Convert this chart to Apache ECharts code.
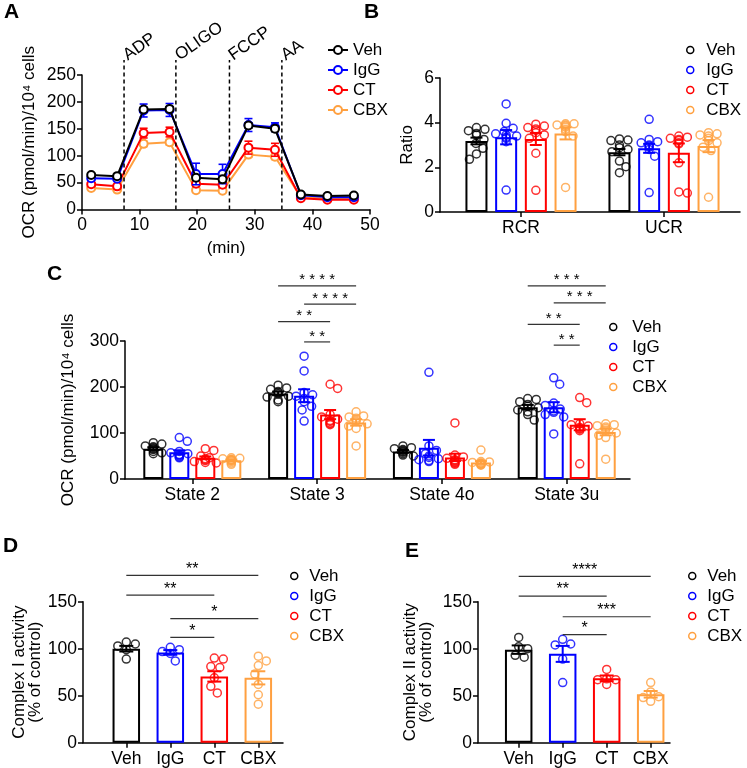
<!DOCTYPE html>
<html><head><meta charset="utf-8">
<script src="https://cdn.jsdelivr.net/npm/echarts@6/dist/echarts.min.js"></script>
<style>html,body{margin:0;padding:0;background:#fff}#c{width:747px;height:768px}</style>
</head><body><div id="c"></div>
<script>
// ---------------- DATA ----------------
const groups = ['Veh', 'IgG', 'CT', 'CBX'];
const colors = ['#000000', '#0000ff', '#ff0000', '#ffa040'];

// Panel A: OCR time course
const aTime = [1.6, 6.1, 10.7, 15.2, 19.8, 24.4, 28.9, 33.5, 38.0, 42.6, 47.2];
const aVeh = [64, 62, 186, 187, 59, 56, 156, 150, 28, 25, 26];
const aIgG = [58, 57, 184, 185, 66, 66, 157, 153, 26.5, 23, 23];
const aCT  = [47, 43, 142, 144, 48, 46, 115, 111, 21, 18, 18];
const aCBX = [40, 37, 122, 125, 36, 35, 102, 98, 23, 20, 20];
const aVehSem = [3, 3, 4, 4, 4, 4, 5, 5, 2, 2, 2];
const aIgGSem = [3, 3, 12, 12, 20, 18, 12, 8, 2, 2, 2];
const aCTSem  = [3, 3, 9, 9, 5, 5, 12, 12, 2, 2, 2];
const aCBXSem = [3, 3, 5, 5, 3, 3, 5, 5, 2, 2, 2];
const aEvents = ['ADP', 'OLIGO', 'FCCP', 'AA'];
const aEventTime = [7.3, 16.3, 25.6, 34.7];
const aEventTop = 278;

// Panel B: ratios
const bCats = ['RCR', 'UCR'];
const bMeans = [[3.18, 2.68], [3.35, 2.85], [3.27, 2.65], [3.52, 2.95]];
const bSems = [[0.15, 0.14], [0.32, 0.2], [0.27, 0.42], [0.27, 0.27]];
const bPoints = [
  [[3.78, 3.7, 3.64, 3.52, 3.45, 3.25, 3.07, 2.85, 2.6, 2.36], [3.27, 3.22, 3.2, 3.0, 2.88, 2.8, 2.7, 2.28, 2.03, 1.76]],
  [[4.84, 3.97, 3.75, 3.6, 3.5, 3.45, 3.4, 3.35, 3.3, 3.15, 0.98], [4.15, 3.25, 3.15, 3.1, 3.0, 2.95, 2.9, 2.8, 2.5, 0.87]],
  [[3.93, 3.85, 3.78, 3.72, 3.65, 3.55, 3.45, 3.3, 2.63, 0.97], [3.4, 3.35, 3.3, 3.25, 3.2, 3.1, 3.05, 2.2, 0.9, 0.85]],
  [[3.95, 3.95, 3.9, 3.9, 3.85, 3.8, 3.7, 3.6, 3.4, 1.1], [3.55, 3.5, 3.45, 3.4, 3.3, 3.2, 3.1, 2.9, 2.75, 0.66]]
];

// Panel C: OCR states
const cCats = ['State 2', 'State 3', 'State 4o', 'State 3u'];
const cMeans = [[66, 186, 60, 156], [58, 181, 68, 156], [46, 140, 47, 118], [41, 123, 36, 102]];
const cSems = [[3, 4, 3, 5], [4.5, 14, 17, 11], [3, 10, 8, 12], [1.5, 7, 3, 7]];
const cPoints = [
  [[79, 76, 72, 70, 68, 66, 64, 60, 57, 55], [204, 198, 195, 190, 188, 185, 180, 178, 172, 168], [72, 68, 66, 64, 62, 60, 58, 55, 52, 50], [175, 173, 168, 162, 158, 155, 150, 146, 140, 128]],
  [[90, 82, 60, 57, 55, 53, 52, 50, 48, 46], [267, 235, 188, 183, 180, 175, 168, 158, 150, 126], [232, 72, 62, 55, 50, 47, 44, 42, 40, 38], [220, 206, 165, 160, 152, 148, 145, 140, 135, 98]],
  [[66, 62, 50, 46, 44, 42, 40, 38, 36, 35], [206, 197, 140, 135, 130, 127, 125, 122, 120, 118], [122, 52, 48, 45, 42, 40, 38, 36, 34, 32], [177, 166, 120, 118, 115, 112, 110, 108, 105, 33]],
  [[46, 45, 44, 43, 42, 41, 40, 38, 35, 32], [146, 137, 135, 132, 128, 125, 120, 115, 110, 72], [63, 38, 37, 36, 35, 34, 33, 32, 31, 30], [120, 118, 116, 113, 110, 106, 100, 95, 90, 43]]
];
const cBrackets = [
  {cat: 1, from: 0, to: 3, y: 420, text: '* * * *'},
  {cat: 1, from: 1, to: 3, y: 380, text: '* * * *'},
  {cat: 1, from: 0, to: 2, y: 342, text: '* *'},
  {cat: 1, from: 1, to: 2, y: 298, text: '* *'},
  {cat: 3, from: 0, to: 3, y: 420, text: '* * *'},
  {cat: 3, from: 1, to: 3, y: 383, text: '* * *'},
  {cat: 3, from: 0, to: 2, y: 336, text: '* *'},
  {cat: 3, from: 1, to: 2, y: 291, text: '* *'}
];

// Panel D: Complex I activity
const dMeans = [100, 96, 70.5, 69];
const dSems = [3, 2.5, 5.5, 7];
const dPoints = [[105, 107, 103, 99, 89], [101.5, 99, 97, 95, 87], [90, 89, 81, 80, 69, 60, 53], [92, 87, 82, 73, 62, 51, 41]];
const dBrackets = [
  {from: 0, to: 3, y: 178, text: '**'},
  {from: 0, to: 2, y: 157, text: '**'},
  {from: 1, to: 3, y: 132, text: '*'},
  {from: 1, to: 2, y: 112, text: '*'}
];

// Panel E: Complex II activity
const eMeans = [99, 94.5, 68.5, 51.5];
const eSems = [4.5, 8.5, 3, 3.5];
const ePoints = [[112, 102, 100, 93, 91], [110, 105, 104, 89, 64], [78, 68, 67, 67, 62], [64, 54, 49, 48, 44]];
const eBrackets = [
  {from: 0, to: 3, y: 177, text: '****'},
  {from: 0, to: 2, y: 156, text: '**'},
  {from: 1, to: 3, y: 134, text: '***'},
  {from: 1, to: 2, y: 115, text: '*'}
];

// ---------------- RENDER ----------------
const FONT = '"Liberation Sans", Arial, Helvetica, sans-serif';
const chart = echarts.init(document.getElementById('c'), null, {renderer: 'canvas', width: 747, height: 768});
const series = [];

function swarm(vals, pxY, d, maxOff) {
  const order = vals.map((v, i) => i).sort((a, b) => vals[b] - vals[a]);
  const pos = []; const off = [];
  let flip = 1;
  order.forEach(i => {
    const y = vals[i] * pxY;
    let chosen = null;
    for (let k = 0; k <= maxOff && chosen === null; k += 0.5) {
      const cands = k === 0 ? [0] : [flip * k, -flip * k];
      for (const dx of cands) {
        if (pos.every(p => Math.hypot(p[0] - dx, p[1] - y) >= d)) { chosen = dx; break; }
      }
    }
    if (chosen === null) chosen = 0;
    if (chosen !== 0) flip = -Math.sign(chosen);
    pos.push([chosen, y]); off[i] = chosen;
  });
  return off;
}

function errRender(offFn, cap, lw) {
  return function (params, api) {
    const x = api.value(0), m = api.value(1), s = api.value(2), gi = api.value(3);
    const t = api.coord([x, m + s]), b = api.coord([x, m - s]);
    const cx = t[0] + offFn(gi);
    const st = {stroke: colors[gi], lineWidth: lw, fill: null};
    return {type: 'group', children: [
      {type: 'line', shape: {x1: cx, y1: t[1], x2: cx, y2: b[1]}, style: st},
      {type: 'line', shape: {x1: cx - cap, y1: t[1], x2: cx + cap, y2: t[1]}, style: st},
      {type: 'line', shape: {x1: cx - cap, y1: b[1], x2: cx + cap, y2: b[1]}, style: st}
    ]};
  };
}

function bracketRender(list, xOf, fontSize) {
  return function (params, api) {
    const b = list[params.dataIndex];
    const x1 = xOf(b, b.from, api), x2 = xOf(b, b.to, api);
    const y = api.coord([0, b.y])[1];
    return {type: 'group', children: [
      {type: 'line', shape: {x1: x1, y1: y, x2: x2, y2: y}, style: {stroke: '#333', lineWidth: 1.2}},
      {type: 'text', x: (x1 + x2) / 2, y: y + 2, style: {text: b.text, font: fontSize + 'px ' + FONT, fill: '#000', align: 'center', verticalAlign: 'bottom'}}
    ]};
  };
}

// ---- Panel A ----
const aVals = [aVeh, aIgG, aCT, aCBX];
const aSemAll = [aVehSem, aIgGSem, aCTSem, aCBXSem];
groups.forEach((g, i) => {
  series.push({type: 'line', name: g, xAxisIndex: 0, yAxisIndex: 0, z: 6 - i,
    data: aTime.map((t, k) => [t, aVals[i][k]]),
    symbol: 'emptyCircle', symbolSize: 8,
    lineStyle: {width: 2, color: colors[i]},
    itemStyle: {color: colors[i], borderWidth: 1.6}});
  series.push({type: 'custom', name: 'errA' + i, xAxisIndex: 0, yAxisIndex: 0, z: 6 - i,
    data: aTime.map((t, k) => [t, aVals[i][k], aSemAll[i][k], i]),
    renderItem: errRender(() => 0, 4, 1.6)});
});
series.push({type: 'custom', name: 'events', xAxisIndex: 0, yAxisIndex: 0, z: 8,
  data: aEventTime.map(t => [t, 0]),
  renderItem: function (params, api) {
    const t = api.value(0);
    const b = api.coord([t, 0]), tp = api.coord([t, aEventTop]);
    return {type: 'group', children: [
      {type: 'line', shape: {x1: b[0], y1: b[1], x2: tp[0], y2: tp[1]}, style: {stroke: '#000', lineWidth: 1.5, lineDash: [4, 3]}},
      {type: 'text', x: tp[0] + 6, y: tp[1] + 4, rotation: 35 * Math.PI / 180,
        style: {text: aEvents[params.dataIndex], font: '17px ' + FONT, fill: '#000', align: 'left', verticalAlign: 'bottom'}}
    ]};
  }});

// ---- grouped bar panels (B, C) ----
function groupedPanel(ax, means, sems, points, opt) {
  const step = opt.barWidth + opt.gapPx;
  const offFn = gi => (gi - 1.5) * step;
  groups.forEach((g, gi) => {
    series.push({type: 'bar', name: g, xAxisIndex: ax, yAxisIndex: ax, z: 2,
      barWidth: opt.barWidth, barGap: (opt.gapPx / opt.barWidth * 100) + '%',
      data: means[gi].map((v, c) => [c, v]),
      itemStyle: {color: '#fff', borderColor: colors[gi], borderWidth: opt.bw}});
    series.push({type: 'custom', name: 'err' + ax + g, xAxisIndex: ax, yAxisIndex: ax, z: 3,
      data: means[gi].map((v, c) => [c, v, sems[gi][c], gi]),
      renderItem: errRender(offFn, opt.cap, opt.bw)});
    const pts = [];
    points[gi].forEach((arr, c) => {
      const o = swarm(arr, opt.pxY, opt.d, opt.maxOff);
      arr.forEach((v, k) => pts.push({value: [c, v], symbolOffset: [offFn(gi) + o[k], 0]}));
    });
    series.push({type: 'scatter', name: 'pts' + ax + g, xAxisIndex: ax, yAxisIndex: ax, z: 4,
      symbol: 'circle', symbolSize: opt.sym,
      itemStyle: {color: 'rgba(255,255,255,0)', borderColor: colors[gi], borderWidth: 1.5},
      data: pts});
  });
  return step;
}
function singlePanel(ax, means, sems, points, opt) {
  series.push({type: 'bar', name: 'bars' + ax, xAxisIndex: ax, yAxisIndex: ax, z: 2, barWidth: opt.barWidth,
    data: means.map((v, i) => ({value: [i, v], itemStyle: {color: '#fff', borderColor: colors[i], borderWidth: opt.bw}}))});
  series.push({type: 'custom', name: 'err' + ax, xAxisIndex: ax, yAxisIndex: ax, z: 3,
    data: means.map((v, i) => [i, v, sems[i], i]),
    renderItem: errRender(() => 0, opt.cap, opt.bw)});
  groups.forEach((g, gi) => {
    const o = swarm(points[gi], opt.pxY, opt.d, opt.maxOff);
    series.push({type: 'scatter', name: 'pts' + ax + g, xAxisIndex: ax, yAxisIndex: ax, z: 4,
      symbol: 'circle', symbolSize: opt.sym,
      itemStyle: {color: 'rgba(255,255,255,0)', borderColor: colors[gi], borderWidth: 1.5},
      data: points[gi].map((v, k) => ({value: [gi, v], symbolOffset: [o[k], 0]}))});
  });
}

// layout
const G = {
  A: {left: 82, top: 75, width: 288, height: 134.5},
  B: {left: 440, top: 78, width: 300, height: 134},
  C: {left: 125, top: 341, width: 505, height: 138},
  D: {left: 83, top: 601.7, width: 200, height: 141},
  E: {left: 478, top: 601.7, width: 192, height: 141}
};
const bStep = groupedPanel(1, bMeans, bSems, bPoints, {barWidth: 22, gapPx: 7.7, bw: 2, cap: 6, pxY: G.B.height / 6, d: 8.5, maxOff: 11, sym: 8});
const cStep = groupedPanel(2, cMeans, cSems, cPoints, {barWidth: 20, gapPx: 6, bw: 2, cap: 6, pxY: G.C.height / 300, d: 8.5, maxOff: 11, sym: 8});
singlePanel(3, dMeans, dSems, dPoints, {barWidth: 27.5, bw: 2, cap: 7, pxY: G.D.height / 150, d: 9, maxOff: 12, sym: 8});
singlePanel(4, eMeans, eSems, ePoints, {barWidth: 27.5, bw: 2, cap: 7, pxY: G.E.height / 150, d: 9, maxOff: 12, sym: 8});

series.push({type: 'custom', name: 'brC', xAxisIndex: 2, yAxisIndex: 2, z: 5,
  data: cBrackets.map(b => [b.cat, b.y]),
  renderItem: bracketRender(cBrackets, (b, s, api) => api.coord([b.cat, b.y])[0] + (s - 1.5) * cStep, 15)});
series.push({type: 'custom', name: 'brD', xAxisIndex: 3, yAxisIndex: 3, z: 5,
  data: dBrackets.map(b => [b.from, b.y]),
  renderItem: bracketRender(dBrackets, (b, s, api) => api.coord([s, b.y])[0], 16)});
series.push({type: 'custom', name: 'brE', xAxisIndex: 4, yAxisIndex: 4, z: 5,
  data: eBrackets.map(b => [b.from, b.y]),
  renderItem: bracketRender(eBrackets, (b, s, api) => api.coord([s, b.y])[0], 16)});

// axes
const axLine = {show: true, onZero: false, lineStyle: {color: '#000', width: 1.5}};
const axTick = {show: true, length: 5, inside: false, lineStyle: {color: '#000', width: 1.5}};
const axLabel = {color: '#000', fontSize: 17.5, fontFamily: FONT, margin: 6};
const nameStyle = {color: '#000', fontSize: 17, fontFamily: FONT};
function xCat(gi, min, max, cats) {
  const vals = cats.map((c, i) => i);
  return {type: 'value', gridIndex: gi, min: min, max: max, axisLine: axLine,
    axisTick: Object.assign({}, axTick, {customValues: vals}),
    axisLabel: Object.assign({}, axLabel, {margin: 7, customValues: vals, formatter: v => cats[Math.round(v)]}),
    splitLine: {show: false}};
}
function yVal(gi, max, interval, name, gap, lh) {
  return {type: 'value', gridIndex: gi, min: 0, max: max, interval: interval, axisLine: axLine, axisTick: axTick,
    axisLabel: axLabel, splitLine: {show: false},
    name: name, nameLocation: 'middle', nameGap: gap, nameMoveOverlap: false,
    nameTextStyle: Object.assign({}, nameStyle, lh ? {lineHeight: lh} : {})};
}

const circleItems = groups.map((g, i) => ({name: g, icon: 'circle',
  itemStyle: {color: '#fff', borderColor: colors[i], borderWidth: 1.5}}));
const legendBase = {orient: 'vertical', itemGap: 3, padding: 0, selectedMode: false,
  textStyle: {fontSize: 17, color: '#000', fontFamily: FONT}};

chart.setOption({
  animation: false,
  textStyle: {fontFamily: FONT},
  grid: ['A', 'B', 'C', 'D', 'E'].map(k => Object.assign({outerBoundsMode: 'none', containLabel: false}, G[k])),
  xAxis: [
    {type: 'value', gridIndex: 0, min: 0, max: 50, interval: 10, axisLine: axLine, axisTick: axTick,
      axisLabel: Object.assign({}, axLabel, {margin: 7}), splitLine: {show: false},
      name: '(min)', nameLocation: 'middle', nameGap: 30, nameTextStyle: nameStyle},
    xCat(1, -0.5664, 1.5315, bCats),
    xCat(2, -0.5393, 3.507, cCats),
    xCat(3, -0.984, 3.561, groups),
    xCat(4, -0.925, 3.439, groups)
  ],
  yAxis: [
    yVal(0, 250, 50, 'OCR (pmol/min)/10\u2074 cells', 44),
    yVal(1, 6, 2, 'Ratio', 24),
    yVal(2, 300, 100, 'OCR (pmol/min)/10\u2074 cells', 48),
    yVal(3, 150, 50, 'Complex I activity\n(% of control)', 40, 16),
    yVal(4, 150, 50, 'Complex II activity\n(% of control)', 44, 16)
  ],
  legend: [
    Object.assign({}, legendBase, {left: 327, top: 41.5, itemWidth: 20, itemHeight: 10, data: groups.slice()}),
    Object.assign({}, legendBase, {left: 686, top: 41.5, itemWidth: 22, itemHeight: 7, data: circleItems}),
    Object.assign({}, legendBase, {left: 609, top: 318.5, itemWidth: 28, itemHeight: 7, data: circleItems}),
    Object.assign({}, legendBase, {left: 290, top: 567.5, itemWidth: 20, itemHeight: 7, data: circleItems}),
    Object.assign({}, legendBase, {left: 688, top: 567.5, itemWidth: 20, itemHeight: 7, data: circleItems})
  ],
  graphic: [
    {type: 'text', left: 4, top: 2, style: {text: 'A', font: 'bold 21px ' + FONT, fill: '#000'}},
    {type: 'text', left: 364, top: 2, style: {text: 'B', font: 'bold 21px ' + FONT, fill: '#000'}},
    {type: 'text', left: 47, top: 264, style: {text: 'C', font: 'bold 21px ' + FONT, fill: '#000'}},
    {type: 'text', left: 3, top: 536, style: {text: 'D', font: 'bold 21px ' + FONT, fill: '#000'}},
    {type: 'text', left: 405, top: 541, style: {text: 'E', font: 'bold 21px ' + FONT, fill: '#000'}}
  ],
  series: series
});
</script>
</body></html>
